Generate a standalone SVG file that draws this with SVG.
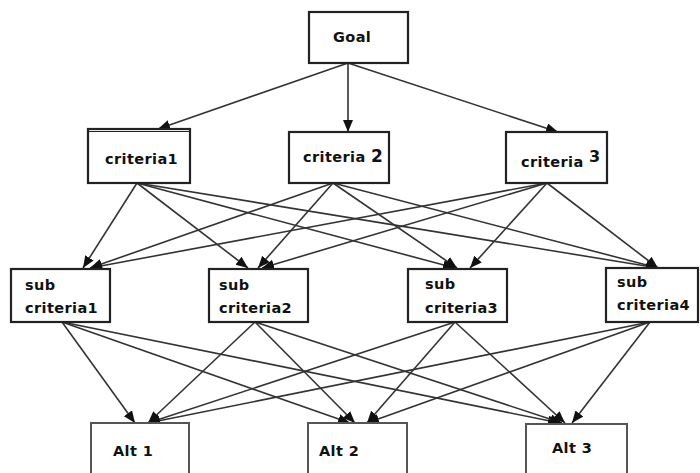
<svg xmlns="http://www.w3.org/2000/svg" width="700" height="473" viewBox="0 0 700 473">
<style>
.box{fill:#fff;stroke:#222;stroke-width:2.2}
.alt{fill:#fff;stroke:#555;stroke-width:2}
.t{font-family:"DejaVu Sans",sans-serif;font-weight:bold;font-size:14.5px;letter-spacing:0.4px;fill:#111}
.c line{stroke:#333;stroke-width:1.6;marker-end:url(#ah)}
</style>
<defs>
<marker id="ah" markerUnits="userSpaceOnUse" markerWidth="13" markerHeight="11" refX="12" refY="5" orient="auto">
<path d="M0,0 L12,5 L0,10 z" fill="#111"/>
</marker>
</defs>
<rect width="700" height="473" fill="#fff"/>
<g class="c" id="connectors">
<line x1="348" y1="63" x2="158" y2="129"/>
<line x1="348" y1="63" x2="348" y2="132"/>
<line x1="348" y1="63" x2="558" y2="132"/>
<line x1="137" y1="183" x2="83" y2="268"/>
<line x1="137" y1="183" x2="248" y2="268"/>
<line x1="137" y1="183" x2="455" y2="268"/>
<line x1="137" y1="183" x2="658" y2="268"/>
<line x1="333" y1="183" x2="90" y2="268"/>
<line x1="333" y1="183" x2="258" y2="268"/>
<line x1="333" y1="183" x2="457" y2="268"/>
<line x1="333" y1="183" x2="658" y2="268"/>
<line x1="547" y1="183" x2="90" y2="268"/>
<line x1="547" y1="183" x2="262" y2="268"/>
<line x1="547" y1="183" x2="470" y2="268"/>
<line x1="547" y1="183" x2="658" y2="268"/>
<line x1="62" y1="322" x2="135" y2="423"/>
<line x1="62" y1="322" x2="350" y2="423"/>
<line x1="62" y1="322" x2="560" y2="423"/>
<line x1="255" y1="322" x2="148" y2="423"/>
<line x1="255" y1="322" x2="355" y2="423"/>
<line x1="255" y1="322" x2="562" y2="423"/>
<line x1="455" y1="322" x2="148" y2="423"/>
<line x1="455" y1="322" x2="367" y2="423"/>
<line x1="455" y1="322" x2="565" y2="423"/>
<line x1="650" y1="322" x2="148" y2="423"/>
<line x1="650" y1="322" x2="367" y2="423"/>
<line x1="650" y1="322" x2="572" y2="423"/>
</g>
<g id="goal"><rect class="box" x="309" y="12" width="99" height="51" stroke-width="2.8"/><text class="t" x="333" y="42">Goal</text></g>
<g id="criteria1"><rect class="box" x="88" y="129" width="102" height="54"/><line x1="88" y1="131.5" x2="190" y2="131.5" stroke="#222" stroke-width="1.2"/><text class="t" x="105" y="164">criteria1</text></g>
<g id="criteria2"><rect class="box" x="289" y="132" width="100" height="51"/><text class="t" x="303" y="162">criteria <tspan font-size="17">2</tspan></text></g>
<g id="criteria3"><rect class="box" x="506" y="132" width="101" height="51"/><text class="t" x="521" y="167">criteria <tspan font-size="16" dy="-5">3</tspan></text></g>
<g id="sub1"><rect class="box" x="11" y="269" width="99" height="53" stroke="#444"/><text class="t" x="25" y="290">sub</text><text class="t" x="25" y="313">criteria1</text></g>
<g id="sub2"><rect class="box" x="209" y="269" width="99" height="53" stroke="#444"/><text class="t" x="219" y="290">sub</text><text class="t" x="219" y="313">criteria2</text></g>
<g id="sub3"><rect class="box" x="408" y="269" width="99" height="53" stroke="#444"/><text class="t" x="425" y="289">sub</text><text class="t" x="425" y="313">criteria3</text></g>
<g id="sub4"><rect class="box" x="606" y="268" width="92" height="54" stroke="#444"/><text class="t" x="617" y="287">sub</text><text class="t" x="617" y="310">criteria4</text></g>
<g id="alt1"><rect class="alt" x="91" y="423" width="98" height="60"/><text class="t" x="113" y="456">Alt 1</text></g>
<g id="alt2"><rect class="alt" x="308" y="423" width="99" height="60"/><text class="t" x="319" y="456">Alt 2</text></g>
<g id="alt3"><rect class="alt" x="526" y="424" width="101" height="60"/><text class="t" x="552" y="453">Alt 3</text></g>
</svg>
